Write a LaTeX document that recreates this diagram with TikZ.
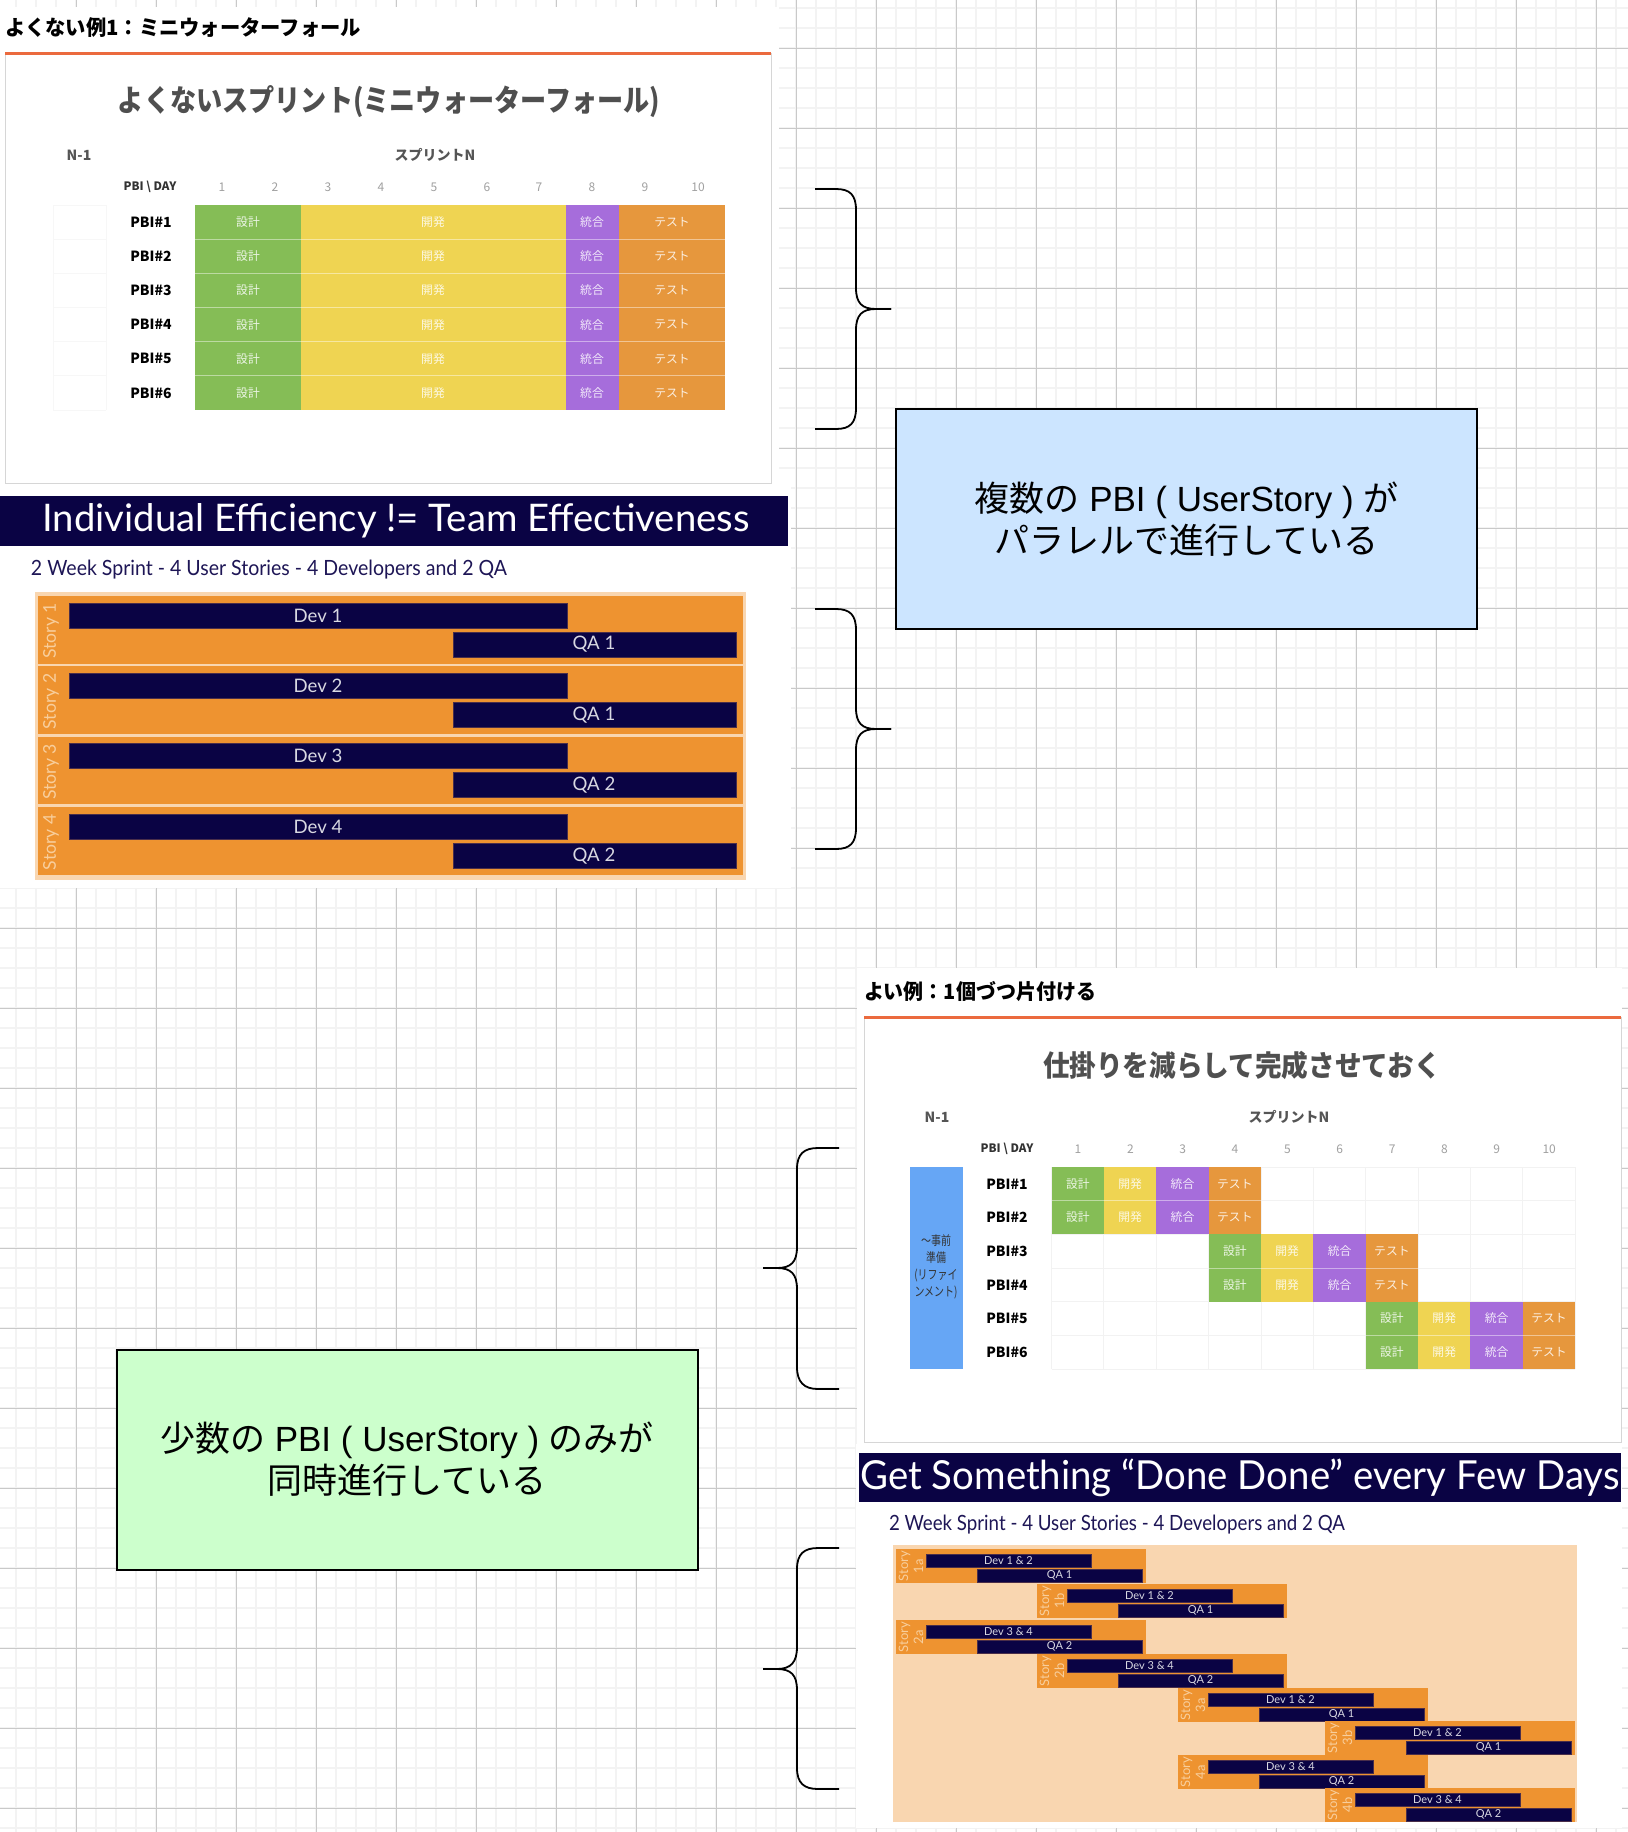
\documentclass[tikz,border=0pt]{standalone}
\usepackage{fontspec}
\usepackage{graphicx}
\setmainfont{Liberation Sans}
\newfontfamily\jp{Noto Sans CJK JP}
\newfontfamily\gill{Lato}
\newfontfamily\arial{Liberation Sans}
\newcommand\setfs[2]{\fontsize{#1}{#2}\selectfont}
\newcommand\fitw[2]{\resizebox{#1}{\height}{#2}}
\definecolor{gridminor}{HTML}{F3F3F3}
\definecolor{gridmajor}{HTML}{C9C9C9}
\definecolor{cgreen}{HTML}{85BD56}
\definecolor{cyellow}{HTML}{EFD452}
\definecolor{cpurple}{HTML}{A66DDB}
\definecolor{corange}{HTML}{E6973D}
\definecolor{cblue}{HTML}{66A6F5}
\definecolor{oline}{HTML}{EB6A3E}
\definecolor{navy}{HTML}{0A0344}
\definecolor{navytxt}{HTML}{1E1656}
\definecolor{porange}{HTML}{EE9330}
\definecolor{ppale}{HTML}{F9D6B0}
\definecolor{boxblue}{HTML}{CCE5FF}
\definecolor{boxgreen}{HTML}{CCFFCC}
\definecolor{headgray}{HTML}{4F4F4F}
\definecolor{midgray}{HTML}{555555}
\definecolor{daygray}{HTML}{A0A0A0}
\definecolor{boxgray}{HTML}{D6D6D6}
\definecolor{faint}{HTML}{F2F2F2}
\definecolor{faintest}{HTML}{F7F7F7}
\definecolor{storytxt}{HTML}{F8CE9C}
\definecolor{bartxt}{HTML}{D8D8E2}
\definecolor{barline}{HTML}{4A2E4A}
\tikzset{
  tx/.style={inner sep=0pt, outer sep=0pt},
  minorg/.style={draw=gridminor, line width=1pt},
  majorg/.style={draw=gridmajor, line width=0.5pt},
  cl/.style={tx, text=white, text opacity=0.85, font={\jp\setfs{5.9pt}{6pt}}},
  lbl/.style={tx, text=black, font={\jp\bfseries\setfs{7pt}{8pt}}},
  dayn/.style={tx, text=daygray, font={\jp\setfs{6pt}{7pt}}},
  hdr/.style={tx, text=midgray, font={\jp\bfseries\setfs{7pt}{8pt}}},
  bar/.style={fill=navy, draw=barline, line width=0.4pt},
  brace/.style={draw=black, line width=0.9pt},
  note/.style={draw=black, line width=1pt, minimum width=290.5pt, minimum height=110pt, align=center, font={\setfs{17.5pt}{21pt}}, inner sep=0pt}
}
\begin{document}
\begin{tikzpicture}[x=0.5pt,y=-0.5pt]
\useasboundingbox (0,0) rectangle (1628,1832);
\fill[white] (0,0) rectangle (1628,1832);
% background grid
\foreach \x in {16,36,...,1620} \draw[minorg] (\x,0) -- (\x,1832);
\foreach \y in {8,28,...,1830} \draw[minorg] (0,\y) -- (1628,\y);
\foreach \x in {76,156,...,1620} \draw[majorg] (\x,0) -- (\x,1832);
\foreach \y in {48,128,...,1830} \draw[majorg] (0,\y) -- (1628,\y);
% image backgrounds
\fill[white] (0,7) rectangle (779,487);
\fill[white] (0,487) rectangle (791,888);
\fill[white] (857,968) rectangle (1622,1444);
\fill[white] (856,1444) rectangle (1622,1828);

% ================= Image 1 =================
\node[tx, anchor=west] (t1) at (5,28) {\fitw{178pt}{\jp\bfseries\setfs{10.5pt}{11pt}よくない例1：ミニウォーターフォール}};
\draw[draw=boxgray, line width=0.5pt] (5,53) rectangle (771,483);
\draw[draw=oline, line width=1.5pt] (5,53.5) -- (771,53.5);
\node[tx, text=headgray] (h1) at (389,102) {\fitw{271pt}{\jp\bfseries\setfs{15pt}{16pt}よくないスプリント(ミニウォーターフォール)}};
\node[hdr] (n1) at (79,155) {N-1};
\node[hdr] (sp1) at (435,155) {スプリントN};
\node[tx, text=black!80, font={\jp\bfseries\setfs{5.8pt}{7pt}}] (pd1) at (150,187) {PBI \textbackslash\ DAY};
\foreach \d/\xx in {1/222,2/275,3/328,4/381,5/434,6/487,7/539,8/592,9/645,10/698}
  \node[dayn] (w-day\d) at (\xx,187) {\d};
\foreach \r in {0,...,6} \draw[faintest, line width=0.5pt] (53,205+34.17*\r) -- (106,205+34.17*\r);
\draw[faintest, line width=0.5pt] (53,205) -- (53,410) (106,205) -- (106,410);
\foreach \r in {1,...,6} {
  \pgfmathsetmacro\ya{205+34.17*(\r-1)}
  \pgfmathsetmacro\yc{\ya+17.08}
  \fill[cgreen] (195,\ya) rectangle (301,\ya+34.17);
  \fill[cyellow] (301,\ya) rectangle (566,\ya+34.17);
  \fill[cpurple] (566,\ya) rectangle (619,\ya+34.17);
  \fill[corange] (619,\ya) rectangle (725,\ya+34.17);
  \node[lbl] (wp\r) at (151,\yc) {PBI\#\r};
  \node[cl] (wa\r) at (248,\yc) {設計};
  \node[cl] (wb\r) at (433,\yc) {開発};
  \node[cl] (wc\r) at (592,\yc) {統合};
  \node[cl] (wd\r) at (672,\yc) {テスト};
}
\foreach \r in {1,...,5} \draw[white, opacity=0.45, line width=0.5pt] (195,205+34.17*\r) -- (725,205+34.17*\r);

% ================= Image 2 =================
\fill[navy] (0,496) rectangle (788,546);
\node[tx, text=white] (b1) at (396,521) {\fitw{353.5pt}{\gill\setfs{19pt}{20pt}Individual Efficiency != Team Effectiveness}};
\node[tx, anchor=west, text=navytxt] (st1) at (31,570) {\fitw{238pt}{\gill\setfs{10.5pt}{11pt}2 Week Sprint - 4 User Stories - 4 Developers and 2 QA}};
\fill[ppale] (35,592) rectangle (746,880);
\foreach \i/\q in {1/1,2/1,3/2,4/2} {
  \pgfmathsetmacro\ty{596+70.4*(\i-1)}
  \fill[porange] (38,\ty) rectangle (743,\ty+67.5);
  \draw[bar] (69,\ty+7) rectangle (567,\ty+32);
  \draw[bar] (453,\ty+36) rectangle (736,\ty+61);
  \node[tx, text=bartxt, font={\gill\setfs{9.3pt}{10pt}}] (dv\i) at (318,\ty+19.5) {Dev \i};
  \node[tx, text=bartxt, font={\gill\setfs{9.3pt}{10pt}}] (qa\i) at (594,\ty+48.5) {QA \q};
  \node[tx, rotate=90, text=storytxt, font={\gill\setfs{8.8pt}{9pt}}] (sy\i) at (51,\ty+35) {Story \i};
}

% ================= Braces =================
\draw[brace] (815,189) -- (836,189) .. controls (850,189) and (856,195) .. (856,210) -- (856,288) .. controls (856,303) and (862,309) .. (876,309) -- (891,309);
\draw[brace] (891,309) -- (876,309) .. controls (862,309) and (856,315) .. (856,330) -- (856,408) .. controls (856,423) and (850,429) .. (836,429) -- (815,429);
\draw[brace] (815,609) -- (836,609) .. controls (850,609) and (856,615) .. (856,630) -- (856,708) .. controls (856,723) and (862,729) .. (876,729) -- (891,729);
\draw[brace] (891,729) -- (876,729) .. controls (862,729) and (856,735) .. (856,750) -- (856,828) .. controls (856,843) and (850,849) .. (836,849) -- (815,849);
\draw[brace] (839,1148) -- (818,1148) .. controls (804,1148) and (797,1154) .. (797,1169) -- (797,1247) .. controls (797,1262) and (791,1268) .. (777,1268) -- (763,1268);
\draw[brace] (763,1268) -- (777,1268) .. controls (791,1268) and (797,1274) .. (797,1289) -- (797,1367) .. controls (797,1382) and (804,1389) .. (818,1389) -- (839,1389);
\draw[brace] (839,1548) -- (818,1548) .. controls (804,1548) and (797,1554) .. (797,1569) -- (797,1647) .. controls (797,1662) and (791,1669) .. (777,1669) -- (763,1669);
\draw[brace] (763,1669) -- (777,1669) .. controls (791,1669) and (797,1675) .. (797,1690) -- (797,1768) .. controls (797,1783) and (804,1789) .. (818,1789) -- (839,1789);

% ================= Notes =================
\node[note, fill=boxblue] (note1) at (1186.5,519) {{\jp 複数の} {\arial PBI ( UserStory )} {\jp が}\\{\jp パラレルで進行している}};
\node[note, fill=boxgreen] (note2) at (407,1459.5) {{\jp 少数の} {\arial PBI ( UserStory )} {\jp のみが}\\{\jp 同時進行している}};

% ================= Image 3 =================
\node[tx, anchor=west] (t3) at (864,992) {\fitw{116pt}{\jp\bfseries\setfs{10.5pt}{11pt}よい例：1個づつ片付ける}};
\draw[draw=boxgray, line width=0.5pt] (864,1017) rectangle (1621,1442);
\draw[draw=oline, line width=1.5pt] (864,1017.5) -- (1621,1017.5);
\node[tx, text=headgray] (h3) at (1242,1065) {\fitw{199pt}{\jp\bfseries\setfs{14.5pt}{15pt}仕掛りを減らして完成させておく}};
\node[hdr] (n3) at (937,1117) {N-1};
\node[hdr] (sp3) at (1289,1117) {スプリントN};
\node[tx, text=black!80, font={\jp\bfseries\setfs{5.8pt}{7pt}}] (pd3) at (1007,1149) {PBI \textbackslash\ DAY};
\foreach \d in {1,...,10}
  \node[dayn] (g-day\d) at (1078+52.35*\d-52.35,1149) {\d};
\foreach \k in {0,...,10} \draw[faint, line width=0.5pt] (1051.6+52.35*\k,1167) -- (1051.6+52.35*\k,1369);
\foreach \r in {0,...,6} \draw[faint, line width=0.5pt] (1051.6,1167+33.67*\r) -- (1575,1167+33.67*\r);
\fill[cblue] (910,1167) rectangle (963,1369);
\node[tx, text=black!80] (prep) at (936,1268) {\scalebox{0.78}[1]{\jp\setfs{6.4pt}{8.5pt}\begin{tabular}{@{}c@{}}～事前\\準備\\(リファイ\\ンメント)\end{tabular}}};
\foreach \r/\s in {1/1,2/1,3/4,4/4,5/7,6/7} {
  \pgfmathsetmacro\ya{1167+33.67*(\r-1)}
  \foreach \k/\col/\txt in {0/cgreen/設計,1/cyellow/開発,2/cpurple/統合,3/corange/テスト} {
    \pgfmathsetmacro\xa{1051.6+52.35*(\s+\k-1)}
    \fill[\col] (\xa,\ya) rectangle ++(52.35,33.67);
    \node[cl] (g\r-\k) at (\xa+26.2,\ya+16.8) {\txt};
  }
  \node[lbl] (gp\r) at (1007,\ya+16.8) {PBI\#\r};
}
\foreach \r/\s in {1/1,3/4,5/7} \draw[white, opacity=0.45, line width=0.5pt] (1051.6+52.35*\s-52.35,1167+33.67*\r) -- ++(209.4,0);

% ================= Image 4 =================
\fill[navy] (859,1453) rectangle (1621,1502);
\node[tx, text=white] (b4) at (1240,1478) {\fitw{379.5pt}{\gill\setfs{20pt}{21pt}Get Something “Done Done” every Few Days}};
\node[tx, anchor=west, text=navytxt] (st4) at (889,1525) {\fitw{228pt}{\gill\setfs{10.5pt}{11pt}2 Week Sprint - 4 User Stories - 4 Developers and 2 QA}};
\fill[ppale] (893,1545) rectangle (1577,1822);
\foreach \bx/\by/\bn/\bd/\bq [count=\k] in {896/1549/1a/Dev 1 \& 2/QA 1, 1037/1584/1b/Dev 1 \& 2/QA 1, 896/1620/2a/Dev 3 \& 4/QA 2, 1037/1654/2b/Dev 3 \& 4/QA 2, 1178/1688/3a/Dev 1 \& 2/QA 1, 1325/1721/3b/Dev 1 \& 2/QA 1, 1178/1755/4a/Dev 3 \& 4/QA 2, 1325/1788/4b/Dev 3 \& 4/QA 2} {
  \fill[porange] (\bx,\by) rectangle ++(250,34);
  \draw[bar] (\bx+30,\by+5) rectangle (\bx+195,\by+18);
  \draw[bar] (\bx+81,\by+20) rectangle (\bx+246,\by+33);
  \node[tx, text=bartxt, font={\gill\setfs{5.5pt}{6pt}}] (dd\k) at (\bx+112.5,\by+11.5) {\bd};
  \node[tx, text=bartxt, font={\gill\setfs{5.5pt}{6pt}}] (dq\k) at (\bx+163.5,\by+26.5) {\bq};
  \node[tx, rotate=90, align=center, text=storytxt, font={\gill\setfs{6.5pt}{7.5pt}}] (ds\k) at (\bx+15,\by+17) {Story\\\bn};
}
\end{tikzpicture}
\end{document}
